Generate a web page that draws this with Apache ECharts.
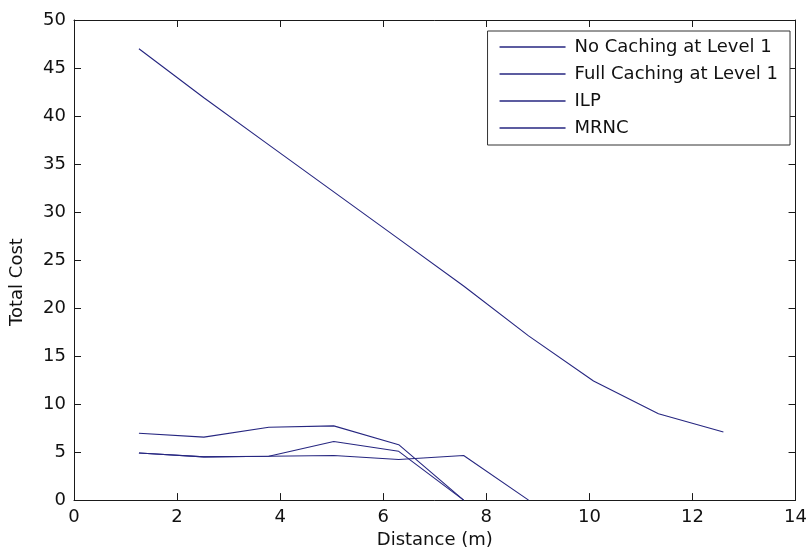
<!DOCTYPE html>
<html>
<head>
<meta charset="utf-8">
<script src="https://cdn.jsdelivr.net/npm/echarts@6/dist/echarts.min.js"></script>
<style>
  html, body { margin: 0; padding: 0; background: #fff; }
  #chart { width: 810px; height: 554px; }
</style>
</head>
<body>
<div id="chart"></div>
<script>
// distance values (m)
var distance = [1.26, 2.52, 3.78, 5.04, 6.3, 7.56, 8.82, 10.08, 11.34, 12.6];

var noCaching   = [47, 41.9, 37, 32.1, 27.2, 22.3, 17.1, 12.4, 9.0, 7.1];
var fullCaching = [6.97, 6.56, 7.59, 7.73, 5.77, 0];
var ilp         = [4.91, 4.5, 4.57, 6.11, 5.08, 0];
var mrnc        = [4.91, 4.5, 4.57, 4.64, 4.23, 4.64, 0];

var seriesNames = ['No Caching at Level 1', 'Full Caching at Level 1', 'ILP', 'MRNC'];
var xTicks = [0, 14, 2];
var yTicks = [0, 50, 5];

var lineColor = '#262680';
var axisColor = '#1a1a1a';
var font = 'DejaVu Sans';

function pairs(ys) {
    return ys.map(function (y, i) { return [distance[i], y]; });
}

var myChart = echarts.init(document.getElementById('chart'));

var axisBase = {
    type: 'value',
    splitLine: { show: false },
    axisLine: { onZero: false, lineStyle: { color: axisColor, width: 1 } },
    axisTick: { inside: true, length: 7, lineStyle: { color: axisColor } }
};

function lineSeries(name, ys) {
    return {
        name: name, type: 'line', symbol: 'none', data: pairs(ys),
        lineStyle: { color: lineColor, width: 1.1 }, itemStyle: { color: lineColor }
    };
}

myChart.setOption({
    backgroundColor: '#fff',
    animation: false,
    grid: { left: 73, right: 14, top: 20, bottom: 50 },
    legend: {
        data: seriesNames,
        orient: 'vertical',
        right: 20,
        top: 31,
        icon: 'rect',
        backgroundColor: '#fff',
        borderColor: '#333',
        borderWidth: 1,
        padding: [7, 12, 8, 12],
        itemWidth: 66,
        itemHeight: 1.3,
        itemGap: 9,
        itemStyle: { color: lineColor },
        textStyle: { fontFamily: font, fontSize: 18, lineHeight: 18, color: '#111', padding: [0, 0, 0, 4] }
    },
    xAxis: [
        Object.assign({}, axisBase, {
            min: xTicks[0], max: xTicks[1], interval: xTicks[2],
            name: 'Distance (m)',
            nameLocation: 'middle',
            nameGap: 30,
            nameTextStyle: { fontFamily: font, fontSize: 18, color: '#111' },
            axisLabel: { fontFamily: font, fontSize: 18, color: '#111', margin: 8 }
        }),
        Object.assign({}, axisBase, {
            position: 'top',
            min: xTicks[0], max: xTicks[1], interval: xTicks[2],
            axisLabel: { show: false }
        })
    ],
    yAxis: [
        Object.assign({}, axisBase, {
            min: yTicks[0], max: yTicks[1], interval: yTicks[2],
            name: 'Total Cost',
            nameLocation: 'middle',
            nameGap: 48,
            nameTextStyle: { fontFamily: font, fontSize: 18, color: '#111', padding: [0, 44, 0, 0] },
            axisLabel: { fontFamily: font, fontSize: 18, color: '#111', margin: 8 }
        }),
        Object.assign({}, axisBase, {
            position: 'right',
            min: yTicks[0], max: yTicks[1], interval: yTicks[2],
            axisLabel: { show: false }
        })
    ],
    series: [
        lineSeries(seriesNames[0], noCaching),
        lineSeries(seriesNames[1], fullCaching),
        lineSeries(seriesNames[2], ilp),
        lineSeries(seriesNames[3], mrnc)
    ]
});
</script>
</body>
</html>
